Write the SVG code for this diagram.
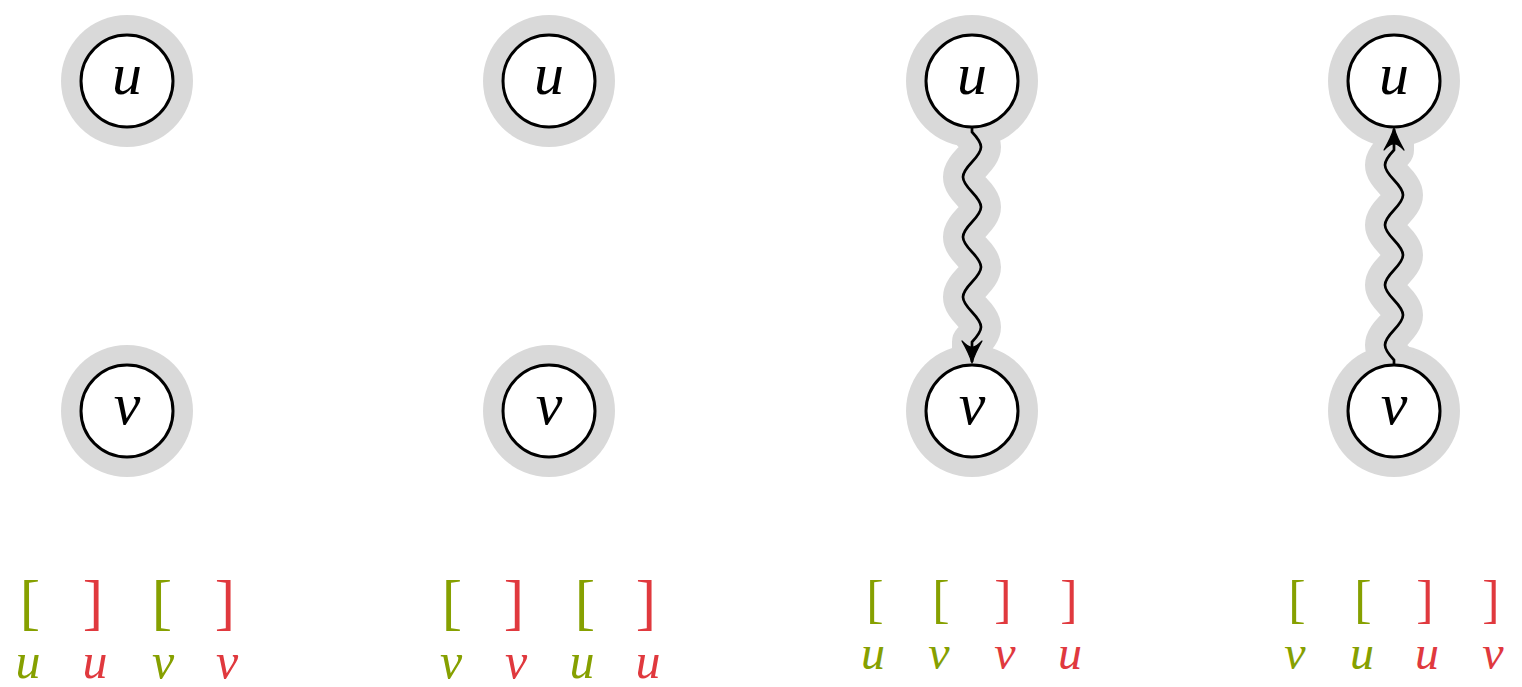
<svg xmlns="http://www.w3.org/2000/svg" width="1522" height="687" viewBox="0 0 1522 687">
  <style>
    .halo { fill: #d9d9d9; }
    .edge-halo { fill: none; stroke: #d9d9d9; stroke-width: 40; stroke-linecap: round; stroke-linejoin: round; }
    .edge { fill: none; stroke: #000; stroke-width: 2.7; marker-end: url(#stealth); }
    .node circle { fill: #fff; stroke: #000; stroke-width: 3; }
    .lbl { font-family: "Liberation Serif", "DejaVu Serif", serif; font-style: italic; text-anchor: middle; }
    .node text { font-size: 60px; fill: #000; }
    .br { font-family: "Liberation Serif", "DejaVu Serif", serif; text-anchor: middle; }
    .br-a { font-size: 61px; }
    .br-b { font-size: 52px; }
    .seq-a { font-size: 50px; }
    .seq-b { font-size: 48px; }
    .open { fill: #86a000; }
    .close { fill: #e0393e; }
  </style>
  <defs>
    <marker id="stealth" markerUnits="userSpaceOnUse" viewBox="-24 -12 28 24" refX="0" refY="0" markerWidth="28" markerHeight="24" orient="auto">
      <path d="M1,0 C-6,-2 -14,-6 -21,-10 Q-14,-3 -15,0 Q-14,3 -21,10 C-14,6 -6,2 1,0 Z" fill="#000" stroke="#000" stroke-width="1.2" stroke-linejoin="round"/>
    </marker>
  </defs>

  <!-- gray halos behind nodes and edges -->
  <g id="halos">
    <circle class="halo" cx="127" cy="81" r="66"/>
    <circle class="halo" cx="127" cy="411" r="66"/>
    <circle class="halo" cx="549" cy="81" r="66"/>
    <circle class="halo" cx="549" cy="411" r="66"/>
    <circle class="halo" cx="972" cy="81" r="66"/>
    <circle class="halo" cx="972" cy="411" r="66"/>
    <circle class="halo" cx="1394" cy="81" r="66"/>
    <circle class="halo" cx="1394" cy="411" r="66"/>
    <path class="edge-halo" d="M972,127 L972,132 C976.7,137 981,142 981,147 C981,152 976.7,157 972,162 C967.3,167 963,172 963,177 C963,182 967.3,187 972,192 C976.7,197 981,202 981,207 C981,212 976.7,217 972,222 C967.3,227 963,232 963,237 C963,242 967.3,247 972,252 C976.7,257 981,262 981,267 C981,272 976.7,277 972,282 C967.3,287 963,292 963,297 C963,302 967.3,307 972,312 C976.7,317 981,322 981,327 C981,332 976.7,337 972,342 L972,358"/>
    <path class="edge-halo" d="M1394,365 L1394,360 C1389.3,355 1385,350 1385,345 C1385,340 1389.3,335 1394,330 C1398.7,325 1403,320 1403,315 C1403,310 1398.7,305 1394,300 C1389.3,295 1385,290 1385,285 C1385,280 1389.3,275 1394,270 C1398.7,265 1403,260 1403,255 C1403,250 1398.7,245 1394,240 C1389.3,235 1385,230 1385,225 C1385,220 1389.3,215 1394,210 C1398.7,205 1403,200 1403,195 C1403,190 1398.7,185 1394,180 C1389.3,175 1385,170 1385,165 C1385,160 1389.3,155 1394,150 L1394,134"/>
  </g>

  <!-- wavy connectors -->
  <g id="connectors">
    <path class="edge" d="M972,127 L972,132 C976.7,137 981,142 981,147 C981,152 976.7,157 972,162 C967.3,167 963,172 963,177 C963,182 967.3,187 972,192 C976.7,197 981,202 981,207 C981,212 976.7,217 972,222 C967.3,227 963,232 963,237 C963,242 967.3,247 972,252 C976.7,257 981,262 981,267 C981,272 976.7,277 972,282 C967.3,287 963,292 963,297 C963,302 967.3,307 972,312 C976.7,317 981,322 981,327 C981,332 976.7,337 972,342 L972,362"/>
    <path class="edge" d="M1394,365 L1394,360 C1389.3,355 1385,350 1385,345 C1385,340 1389.3,335 1394,330 C1398.7,325 1403,320 1403,315 C1403,310 1398.7,305 1394,300 C1389.3,295 1385,290 1385,285 C1385,280 1389.3,275 1394,270 C1398.7,265 1403,260 1403,255 C1403,250 1398.7,245 1394,240 C1389.3,235 1385,230 1385,225 C1385,220 1389.3,215 1394,210 C1398.7,205 1403,200 1403,195 C1403,190 1398.7,185 1394,180 C1389.3,175 1385,170 1385,165 C1385,160 1389.3,155 1394,150 L1394,129"/>
  </g>

  <!-- nodes -->
  <g id="u1" class="node"><circle cx="127" cy="81" r="46"/><text class="lbl" x="127" y="94">u</text></g>
  <g id="v1" class="node"><circle cx="127" cy="411" r="46"/><text class="lbl" x="127" y="424">v</text></g>
  <g id="u2" class="node"><circle cx="549" cy="81" r="46"/><text class="lbl" x="549" y="94">u</text></g>
  <g id="v2" class="node"><circle cx="549" cy="411" r="46"/><text class="lbl" x="549" y="424">v</text></g>
  <g id="u3" class="node"><circle cx="972" cy="81" r="46"/><text class="lbl" x="972" y="94">u</text></g>
  <g id="v3" class="node"><circle cx="972" cy="411" r="46"/><text class="lbl" x="972" y="424">v</text></g>
  <g id="u4" class="node"><circle cx="1394" cy="81" r="46"/><text class="lbl" x="1394" y="94">u</text></g>
  <g id="v4" class="node"><circle cx="1394" cy="411" r="46"/><text class="lbl" x="1394" y="424">v</text></g>

  <!-- interval sequences -->
  <g id="sequences">
    <text class="br br-a open" x="30" y="623">[</text>
    <text class="br br-a close" x="93" y="623">]</text>
    <text class="br br-a open" x="162" y="623">[</text>
    <text class="br br-a close" x="225" y="623">]</text>
    <text class="lbl seq-a open" x="28" y="678">u</text>
    <text class="lbl seq-a close" x="95" y="678">u</text>
    <text class="lbl seq-a open" x="163" y="678">v</text>
    <text class="lbl seq-a close" x="227" y="678">v</text>

    <text class="br br-a open" x="452" y="623">[</text>
    <text class="br br-a close" x="514" y="623">]</text>
    <text class="br br-a open" x="585" y="623">[</text>
    <text class="br br-a close" x="646" y="623">]</text>
    <text class="lbl seq-a open" x="451" y="678">v</text>
    <text class="lbl seq-a close" x="516" y="678">v</text>
    <text class="lbl seq-a open" x="582" y="678">u</text>
    <text class="lbl seq-a close" x="648" y="678">u</text>

    <text class="br br-b open" x="875" y="617">[</text>
    <text class="br br-b open" x="941" y="617">[</text>
    <text class="br br-b close" x="1003" y="617">]</text>
    <text class="br br-b close" x="1069" y="617">]</text>
    <text class="lbl seq-b open" x="873" y="669">u</text>
    <text class="lbl seq-b open" x="939" y="669">v</text>
    <text class="lbl seq-b close" x="1005" y="669">v</text>
    <text class="lbl seq-b close" x="1070" y="669">u</text>

    <text class="br br-b open" x="1297" y="617">[</text>
    <text class="br br-b open" x="1363" y="617">[</text>
    <text class="br br-b close" x="1425" y="617">]</text>
    <text class="br br-b close" x="1491" y="617">]</text>
    <text class="lbl seq-b open" x="1295" y="669">v</text>
    <text class="lbl seq-b open" x="1362" y="669">u</text>
    <text class="lbl seq-b close" x="1427" y="669">u</text>
    <text class="lbl seq-b close" x="1493" y="669">v</text>
  </g>
</svg>
